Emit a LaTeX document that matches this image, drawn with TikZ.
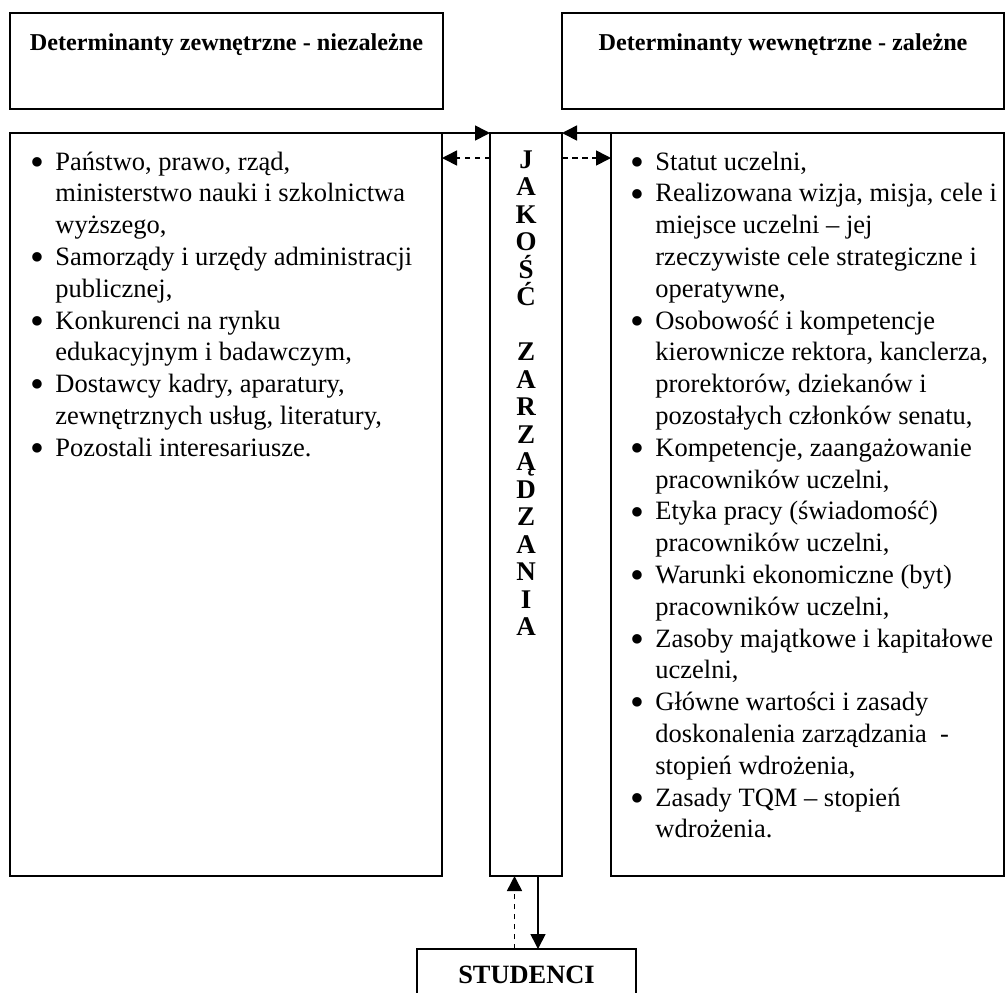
\documentclass[tikz,border=0pt]{standalone}
\usepackage{fontspec}
\setmainfont{Liberation Serif}
\usetikzlibrary{arrows.meta}

\newcommand{\bul}{\noindent\llap{\raisebox{-2.6pt}{\scalebox{1.5}{\textbullet}}\hspace{5.3pt}}}

\begin{document}
\begin{tikzpicture}[x=0.5pt,y=-0.5pt,
    box/.style={draw,line width=0.8pt,inner sep=0pt,outer sep=0pt},
    headbox/.style={box,minimum height=48pt,text height=18.5pt,text depth=29.5pt,
      font=\bfseries\fontsize{12.1}{14}\selectfont},
    colbox/.style={box,minimum height=371.5pt},
    lst/.style={anchor=base west,inner sep=0pt,font=\fontsize{13.25}{15.9}\selectfont},
    tip/.style={line width=0.8pt,-{Triangle[length=7.5pt,width=7.5pt]}},
    dashline/.style={dash pattern=on 2.75pt off 2.25pt}]
  \useasboundingbox (0,0) rectangle (1005,992);

  % naglowki
  \node[headbox,minimum width=216.5pt] (zew) at (226.5,61) {Determinanty zewnętrzne - niezależne};
  \node[headbox,minimum width=221pt] (wew) at (783,61) {Determinanty wewnętrzne - zależne};

  % kolumny
  \node[colbox,minimum width=216pt] (lbox) at (226,504.5) {};
  \node[colbox,minimum width=36pt] (mid) at (526,504.5) {};
  \node[colbox,minimum width=196.5pt] (rbox) at (807.5,504.5) {};
  \node[box,anchor=north,minimum width=109.5pt,minimum height=26pt,
    font=\bfseries\fontsize{13.2}{15}\selectfont] (stud) at (526.5,949) {STUDENCI};

  % teksty
  \node[lst] (zewlist) at (55,170) {\vtop{\hsize=200pt\raggedright\parindent=0pt
    \bul Państwo, prawo, rząd,\\ministerstwo nauki i szkolnictwa\\wyższego,\par
    \bul Samorządy i urzędy administracji\\publicznej,\par
    \bul Konkurenci na rynku\\edukacyjnym i badawczym,\par
    \bul Dostawcy kadry, aparatury,\\zewnętrznych usług, literatury,\par
    \bul Pozostali interesariusze.\par}};
  \node[lst] (wewlist) at (655,170) {\vtop{\hsize=200pt\raggedright\parindent=0pt
    \bul Statut uczelni,\par
    \bul Realizowana wizja, misja, cele i\\miejsce uczelni – jej\\rzeczywiste cele strategiczne i\\operatywne,\par
    \bul Osobowość i kompetencje\\kierownicze rektora, kanclerza,\\prorektorów, dziekanów i\\pozostałych członków senatu,\par
    \bul Kompetencje, zaangażowanie\\pracowników uczelni,\par
    \bul Etyka pracy (świadomość)\\pracowników uczelni,\par
    \bul Warunki ekonomiczne (byt)\\pracowników uczelni,\par
    \bul Zasoby majątkowe i kapitałowe\\uczelni,\par
    \bul Główne wartości i zasady\\doskonalenia zarządzania \ -\\stopień wdrożenia,\par
    \bul Zasady TQM – stopień\\wdrożenia.\par}};
  \node[anchor=base,inner sep=0pt,font=\bfseries\fontsize{13.5}{13.75}\selectfont] (litery) at (526,168)
    {\vtop{\hsize=30pt\centering J\\A\\K\\O\\Ś\\Ć\\\mbox{}\\Z\\A\\R\\Z\\Ą\\D\\Z\\A\\N\\I\\A\par}};

  % strzalki
  \draw[tip] (lbox.north east) -- (mid.north west);
  \draw[tip] (rbox.north west) -- (mid.north east);
  \draw[tip,dashline] ([yshift=-12.5pt]mid.north west) -- ([yshift=-12.5pt]lbox.north east);
  \draw[tip,dashline] ([yshift=-12.5pt]mid.north east) -- ([yshift=-12.5pt]rbox.north west);
  \draw[tip,dashline] ([xshift=-6pt]stud.north) -- ([xshift=-6pt]stud.north |- mid.south);
  \draw[tip] ([xshift=6pt]mid.south) -- ([xshift=6pt]mid.south |- stud.north);
\end{tikzpicture}
\end{document}
